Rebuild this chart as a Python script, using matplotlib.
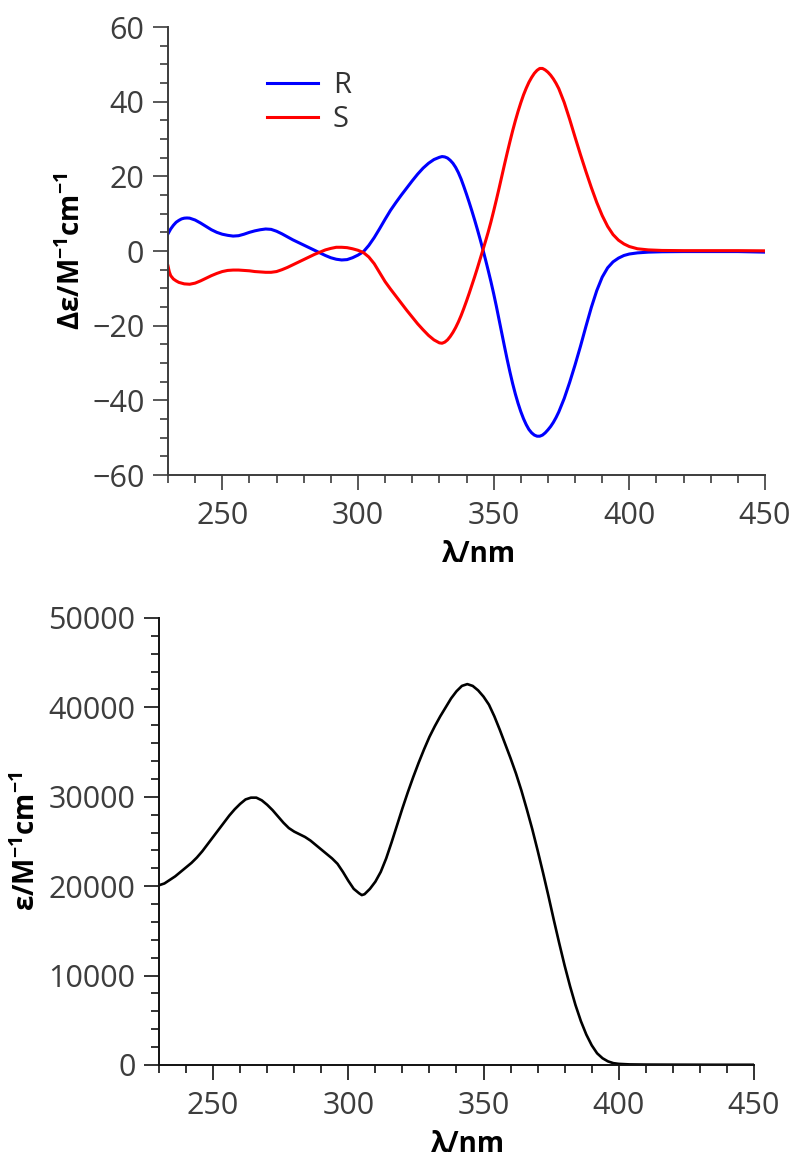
import matplotlib
matplotlib.use("Agg")
import matplotlib.pyplot as plt
from matplotlib.ticker import MultipleLocator

plt.rcParams['font.family'] = ['Open Sans', 'DejaVu Sans']
plt.rcParams['mathtext.fontset'] = 'custom'
plt.rcParams['mathtext.rm'] = 'Open Sans'
plt.rcParams['mathtext.bf'] = 'Open Sans:bold'
plt.rcParams['axes.unicode_minus'] = True

# ---------------- CD data (R) ----------------
wl_R = [230, 231, 232, 233, 234, 235, 236, 237, 238, 240, 242, 244, 246, 248,
        250, 252, 254, 256, 258, 260, 262, 264, 266, 268, 270, 272, 274, 276,
        278, 280, 282, 284, 286, 288, 290, 292, 294, 296, 298, 300, 302, 304,
        306, 308, 310, 312, 314, 316, 318, 320, 322, 324, 326, 328, 330, 331,
        332, 333, 334, 335, 336, 337, 338, 339, 340, 341, 342, 343, 344, 345,
        346, 347, 348, 349, 350, 351, 352, 353, 354, 355, 356, 357, 358, 359,
        360, 361, 362, 363, 364, 365, 366, 367, 368, 369, 370, 371, 372, 373,
        374, 376, 378, 380, 382, 384, 386, 388, 390, 392, 394, 396, 398, 400,
        403, 407, 412, 420, 430, 440, 450]
cd_R = [4.6, 5.9, 6.9, 7.7, 8.2, 8.6, 8.8, 8.85, 8.8, 8.3, 7.5, 6.6, 5.7, 5.0,
        4.5, 4.2, 4.0, 4.1, 4.5, 5.0, 5.4, 5.7, 5.9, 5.8, 5.3, 4.6, 3.8, 3.0,
        2.3, 1.6, 0.9, 0.2, -0.5, -1.2, -1.8, -2.2, -2.4, -2.3, -1.8, -1.1, -0.2, 1.5,
        3.6, 6.0, 8.5, 10.9, 13.0, 15.0, 16.9, 18.8, 20.6, 22.2, 23.5, 24.5, 25.1, 25.3,
        25.2, 24.9, 24.3, 23.5, 22.4, 21.0, 19.3, 17.3, 15.2, 13.0, 10.7, 8.3, 5.8, 3.2,
        0.5, -2.3, -5.2, -8.2, -11.4, -14.8, -18.4, -22.0, -25.6, -29.1, -32.4, -35.5, -38.3, -40.8,
        -43.0, -44.9, -46.5, -47.8, -48.7, -49.3, -49.6, -49.6, -49.3, -48.7, -47.9, -47.0, -45.9, -44.6,
        -43.1, -39.5, -35.2, -30.5, -25.5, -20.2, -15.1, -10.6, -7.0, -4.5, -2.9, -1.9, -1.2, -0.8,
        -0.5, -0.3, -0.2, -0.15, -0.15, -0.15, -0.3]

# ---------------- CD data (S) ----------------
wl_S = [230, 230.5, 231, 232, 233, 234, 236, 238, 240, 242, 244, 246, 248, 250,
        252, 254, 256, 258, 260, 262, 264, 266, 268, 270, 272, 274, 276, 278,
        280, 282, 284, 286, 288, 290, 292, 294, 296, 298, 300, 302, 304, 306,
        308, 310, 312, 314, 316, 318, 320, 322, 324, 326, 328, 330, 331, 332,
        333, 334, 335, 336, 337, 338, 339, 340, 341, 342, 343, 344, 345, 346,
        347, 348, 349, 350, 351, 352, 353, 354, 355, 356, 357, 358, 359, 360,
        361, 362, 363, 364, 365, 366, 367, 368, 369, 370, 371, 372, 373, 374,
        376, 378, 380, 382, 384, 386, 388, 390, 392, 394, 396, 398, 400, 403,
        407, 412, 420, 430, 440, 450]
cd_S = [-4.0, -5.6, -6.6, -7.5, -8.0, -8.4, -8.8, -8.9, -8.6, -8.0, -7.3, -6.6, -6.0, -5.5,
        -5.2, -5.1, -5.1, -5.2, -5.3, -5.5, -5.6, -5.7, -5.7, -5.5, -5.0, -4.4, -3.7, -3.0,
        -2.3, -1.6, -0.9, -0.3, 0.3, 0.7, 1.0, 1.0, 0.9, 0.6, 0.2, -0.4, -1.6, -3.4,
        -5.8, -8.2, -10.2, -12.1, -14.0, -15.9, -17.7, -19.5, -21.1, -22.6, -23.8, -24.6, -24.7, -24.4,
        -23.8, -22.9, -21.8, -20.5, -19.0, -17.3, -15.4, -13.4, -11.3, -9.1, -6.9, -4.6, -2.2, 0.2,
        2.6, 5.1, 7.8, 10.7, 13.7, 16.8, 20.0, 23.2, 26.3, 29.3, 32.2, 34.9, 37.4, 39.7,
        41.8, 43.6, 45.2, 46.5, 47.6, 48.4, 48.9, 48.9, 48.5, 47.9, 47.1, 46.1, 44.9, 43.5,
        39.8, 35.3, 30.5, 25.8, 21.3, 17.0, 13.0, 9.5, 6.6, 4.4, 2.9, 1.9, 1.2, 0.6,
        0.3, 0.15, 0.1, 0.1, 0.1, 0.05]

# ---------------- UV data ----------------
wl_uv = [230, 232, 234, 236, 238, 240, 242, 244, 246, 248, 250, 252, 254, 256,
         258, 260, 262, 264, 266, 268, 270, 272, 274, 276, 278, 280, 282, 284,
         286, 288, 290, 292, 294, 296, 298, 300, 302, 304, 305, 306, 308, 310,
         312, 314, 316, 318, 320, 322, 324, 326, 328, 330, 332, 334, 336, 338,
         340, 342, 344, 346, 348, 350, 352, 354, 356, 358, 360, 362, 364, 366,
         368, 370, 372, 374, 376, 378, 380, 382, 384, 386, 388, 390, 392, 394,
         396, 398, 400, 404, 410, 420, 435, 450]
eps_uv = [20100, 20300, 20700, 21100, 21600, 22100, 22600, 23200, 23900, 24700, 25500, 26300, 27100, 27900,
          28600, 29200, 29700, 29900, 29900, 29600, 29100, 28500, 27800, 27100, 26500, 26100, 25800, 25500,
          25100, 24600, 24100, 23600, 23100, 22500, 21600, 20600, 19700, 19200, 19000, 19100, 19700, 20500,
          21600, 23100, 24900, 26800, 28700, 30500, 32200, 33800, 35300, 36700, 37900, 39000, 40000, 41000,
          41800, 42400, 42600, 42400, 41900, 41200, 40300, 39000, 37500, 35900, 34300, 32600, 30700, 28600,
          26400, 24000, 21500, 18900, 16200, 13600, 11100, 8800, 6700, 4900, 3400, 2200, 1300, 750,
          400, 200, 120, 60, 40, 30, 20, 20]

series_labels = ['R', 'S']
xticks = [250, 300, 350, 400, 450]

tick_color = '#3d3d3d'

fig = plt.figure(figsize=(7.95, 11.64), dpi=100)
ax1 = fig.add_axes([0.2113, 0.5919, 0.7510, 0.3849])
ax2 = fig.add_axes([0.2000, 0.0851, 0.7484, 0.3840])

def style(ax, spine_color):
    for s in ['top', 'right']:
        ax.spines[s].set_visible(False)
    for s in ['left', 'bottom']:
        ax.spines[s].set_linewidth(1.4)
        ax.spines[s].set_color(spine_color)
    ax.tick_params(which='major', direction='out', length=11, width=1.2,
                   color=spine_color, labelsize=22, labelcolor=tick_color)
    ax.tick_params(which='minor', direction='out', length=6, width=1.2,
                   color=spine_color)
    ax.tick_params(axis='x', which='major', pad=8)
    ax.tick_params(axis='y', which='major', pad=6)
    ax.set_xlim(230, 450)
    ax.set_xticks(xticks)
    ax.xaxis.set_minor_locator(MultipleLocator(10))

# ---- top CD ----
style(ax1, '#3c3c3c')
ax1.plot(wl_R, cd_R, color='#0000ff', lw=2.2, label=series_labels[0])
ax1.plot(wl_S, cd_S, color='#ff0000', lw=2.2, label=series_labels[1])
ax1.set_ylim(-60, 60)
ax1.set_yticks([-60, -40, -20, 0, 20, 40, 60])
ax1.yaxis.set_minor_locator(MultipleLocator(5))
ax1.set_xlabel('λ/nm', fontsize=20, fontweight='bold', color='black')
ax1.xaxis.set_label_coords(0.52, -0.145)
ax1.set_ylabel(r'Δε/M$^{\mathbf{-1}}$cm$^{\mathbf{-1}}$', fontsize=20,
               fontweight='bold', color='black')
ax1.yaxis.set_label_coords(-0.135, 0.5)
leg = ax1.legend(loc='upper left', bbox_to_anchor=(0.166, 0.901), frameon=False,
                 fontsize=21, handlelength=1.75, handletextpad=0.5,
                 labelspacing=0.15, borderpad=0, borderaxespad=0)
for t in leg.get_texts():
    t.set_color('#333333')

# ---- bottom UV ----
style(ax2, '#111111')
ax2.plot(wl_uv, eps_uv, color='black', lw=1.9)
ax2.set_ylim(0, 50000)
ax2.set_yticks([0, 10000, 20000, 30000, 40000, 50000])
ax2.yaxis.set_minor_locator(MultipleLocator(2000))
ax2.set_xlabel('λ/nm', fontsize=20, fontweight='bold', color='black')
ax2.xaxis.set_label_coords(0.52, -0.145)
ax2.set_ylabel(r'ε/M$^{\mathbf{-1}}$cm$^{\mathbf{-1}}$', fontsize=20,
               fontweight='bold', color='black')
ax2.yaxis.set_label_coords(-0.197, 0.5)

fig.savefig('out.png', dpi=100)
